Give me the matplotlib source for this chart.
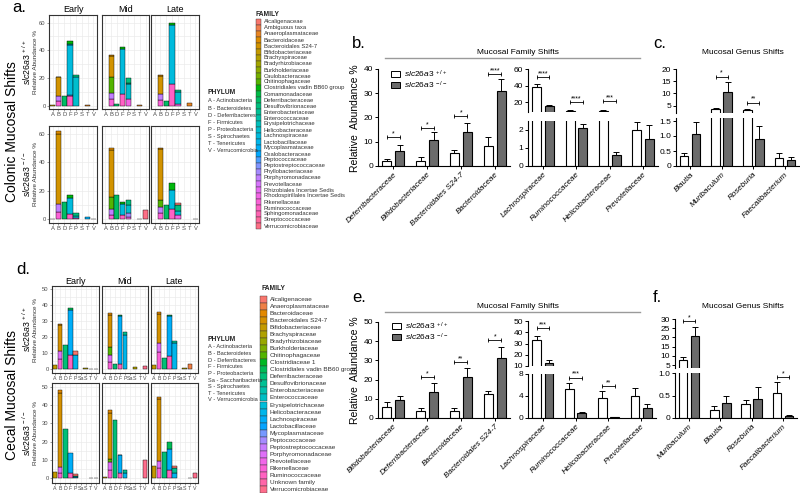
import numpy as np
import matplotlib
matplotlib.use("Agg")
import matplotlib.pyplot as plt
from matplotlib.patches import Rectangle
from matplotlib.lines import Line2D

plt.rcParams['font.family'] = ['Liberation Sans', 'DejaVu Sans']
plt.rcParams['mathtext.fontset'] = 'custom'
plt.rcParams['mathtext.rm'] = 'Liberation Sans'
plt.rcParams['mathtext.it'] = 'Liberation Sans:italic'

# ---------------- stacked phylum / family data ----------------
col_fams = ['Alcaligenaceae', 'Ambiguous taxa', 'Anaeroplasmataceae', 'Bacteroidaceae',
            'Bacteroidales S24-7', 'Bifidobacteriaceae', 'Brachyspiraceae', 'Bradyrhizobiaceae',
            'Burkholderiaceae', 'Caulobacteraceae', 'Chitinophagaceae',
            'Clostridiales vadin BB60 group', 'Comamonadaceae', 'Deferribacteraceae',
            'Desulfovibrionaceae', 'Enterobacteriaceae', 'Enterococcaceae', 'Erysipelotrichaceae',
            'Helicobacteraceae', 'Lachnospiraceae', 'Lactobacillaceae', 'Mycoplasmataceae',
            'Oxalobacteraceae', 'Peptococcaceae', 'Peptostreptococcaceae', 'Phyllobacteriaceae',
            'Porphyromonadaceae', 'Prevotellaceae', 'Rhizobiales Incertae Sedis',
            'Rhodospirillales Incertae Sedis', 'Rikenellaceae', 'Ruminococcaceae',
            'Sphingomonadaceae', 'Streptococcaceae', 'Verrucomicrobiaceae']
cec_fams = ['Alcaligenaceae', 'Anaeroplasmataceae', 'Bacteroidaceae', 'Bacteroidales S24-7',
            'Bifidobacteriaceae', 'Brachyspiraceae', 'Bradyrhizobiaceae', 'Burkholderiaceae',
            'Chitinophagaceae', 'Clostridiaceae 1', 'Clostridiales vadin BB60 group',
            'Deferribacteraceae', 'Desulfovibrionaceae', 'Enterobacteriaceae', 'Enterococcaceae',
            'Erysipelotrichaceae', 'Helicobacteraceae', 'Lachnospiraceae', 'Lactobacillaceae',
            'Mycoplasmataceae', 'Peptococcaceae', 'Peptostreptococcaceae', 'Porphyromonadaceae',
            'Prevotellaceae', 'Rikenellaceae', 'Ruminococcaceae', 'Unknown family',
            'Verrucomicrobiaceae']

col_phyla = ['A', 'B', 'D', 'F', 'P', 'S', 'T', 'V']
cec_phyla = ['A', 'B', 'D', 'F', 'P', 'Sa', 'S', 'T', 'V']
col_phyla_names = ['A - Actinobacteria', 'B - Bacteroidetes', 'D - Deferribacteres', 'F - Firmicutes',
                   'P - Proteobacteria', 'S - Spirochaetes', 'T - Tenericutes', 'V - Verrucomicrobia']
cec_phyla_names = ['A - Actinobacteria', 'B - Bacteroidetes', 'D - Deferribacteres', 'F - Firmicutes',
                   'P - Proteobacteria', 'Sa - Saccharibacteria', 'S - Spirochaetes', 'T - Tenericutes',
                   'V - Verrucomicrobia']
stages = ['Early', 'Mid', 'Late']

col_wt_early = {
    'A': [('Bifidobacteriaceae', 0.3)],
    'B': [('Bacteroidaceae', 0.6), ('Bacteroidales S24-7', 13.4), ('Porphyromonadaceae', 3.5), ('Rikenellaceae', 3.5)],
    'D': [('Deferribacteraceae', 6.7)],
    'F': [('Clostridiales vadin BB60 group', 2.5), ('Erysipelotrichaceae', 0.5), ('Lachnospiraceae', 36.0),
          ('Peptococcaceae', 0.8), ('Ruminococcaceae', 7.0)],
    'P': [('Desulfovibrionaceae', 1.5), ('Helicobacteraceae', 20.8)],
    'T': [('Anaeroplasmataceae', 0.3)],
}
col_wt_mid = {
    'B': [('Bacteroidaceae', 1.0), ('Bacteroidales S24-7', 14.7), ('Chitinophagaceae', 12.0),
          ('Porphyromonadaceae', 4.0), ('Rikenellaceae', 5.0)],
    'D': [('Deferribacteraceae', 1.2)],
    'F': [('Clostridiales vadin BB60 group', 1.0), ('Lachnospiraceae', 32.5), ('Ruminococcaceae', 8.5)],
    'P': [('Desulfovibrionaceae', 3.6), ('Enterobacteriaceae', 1.0), ('Helicobacteraceae', 11.0),
          ('Rhodospirillales Incertae Sedis', 4.4)],
    'T': [('Anaeroplasmataceae', 0.3)],
}
col_wt_late = {
    'B': [('Bacteroidaceae', 1.0), ('Bacteroidales S24-7', 13.0), ('Porphyromonadaceae', 4.0), ('Rikenellaceae', 4.3)],
    'D': [('Deferribacteraceae', 3.6)],
    'F': [('Clostridiales vadin BB60 group', 1.0), ('Lachnospiraceae', 43.0), ('Ruminococcaceae', 15.5)],
    'P': [('Desulfovibrionaceae', 1.5), ('Helicobacteraceae', 9.0), ('Rhodospirillales Incertae Sedis', 1.0)],
    'T': [('Anaeroplasmataceae', 2.0)],
}
col_ko_early = {
    'A': [('Bifidobacteriaceae', 0.3)],
    'B': [('Bacteroidaceae', 2.0), ('Bacteroidales S24-7', 49.0), ('Porphyromonadaceae', 6.0), ('Rikenellaceae', 5.0)],
    'D': [('Deferribacteraceae', 12.0)],
    'F': [('Clostridiales vadin BB60 group', 1.9), ('Lachnospiraceae', 10.9), ('Ruminococcaceae', 4.0)],
    'P': [('Desulfovibrionaceae', 2.0), ('Helicobacteraceae', 1.5), ('Rhodospirillales Incertae Sedis', 1.2)],
    'T': [('Mycoplasmataceae', 2.0)],
    'V': [('Verrucomicrobiaceae', 0.5)],
}
col_ko_mid = {
    'B': [('Bacteroidaceae', 1.0), ('Bacteroidales S24-7', 33.0), ('Chitinophagaceae', 9.0),
          ('Porphyromonadaceae', 4.0), ('Rikenellaceae', 3.0)],
    'D': [('Deferribacteraceae', 16.8)],
    'F': [('Clostridiales vadin BB60 group', 1.0), ('Lachnospiraceae', 8.0), ('Ruminococcaceae', 3.0)],
    'P': [('Desulfovibrionaceae', 3.0), ('Helicobacteraceae', 6.0), ('Phyllobacteriaceae', 2.3),
          ('Rhodospirillales Incertae Sedis', 2.0)],
    'T': [('Anaeroplasmataceae', 0.3)],
    'V': [('Verrucomicrobiaceae', 6.8)],
}
col_ko_late = {
    'B': [('Bacteroidaceae', 1.0), ('Bacteroidales S24-7', 36.0), ('Chitinophagaceae', 4.7),
          ('Porphyromonadaceae', 4.0), ('Rikenellaceae', 4.6)],
    'D': [('Deferribacteraceae', 9.8)],
    'F': [('Clostridiales vadin BB60 group', 5.4), ('Lachnospiraceae', 12.8), ('Ruminococcaceae', 7.5)],
    'P': [('Alcaligenaceae', 1.5), ('Desulfovibrionaceae', 4.0), ('Helicobacteraceae', 3.0),
          ('Rhodospirillales Incertae Sedis', 2.9)],
    'V': [('Verrucomicrobiaceae', 0.5)],
}

cec_wt_early = {
    'A': [('Bifidobacteriaceae', 2.7)],
    'B': [('Bacteroidaceae', 1.0), ('Bacteroidales S24-7', 16.5), ('Porphyromonadaceae', 5.0), ('Rikenellaceae', 6.0)],
    'D': [('Deferribacteraceae', 15.0)],
    'F': [('Clostridiales vadin BB60 group', 1.0), ('Lachnospiraceae', 28.0), ('Ruminococcaceae', 9.0)],
    'P': [('Alcaligenaceae', 2.5), ('Helicobacteraceae', 9.0)],
    'S': [('Brachyspiraceae', 0.6)],
    'T': [('Anaeroplasmataceae', 0.3)],
    'V': [('Verrucomicrobiaceae', 0.3)],
}
cec_wt_mid = {
    'B': [('Bacteroidaceae', 1.0), ('Bacteroidales S24-7', 20.5), ('Chitinophagaceae', 5.0),
          ('Porphyromonadaceae', 4.0), ('Rikenellaceae', 4.5)],
    'D': [('Deferribacteraceae', 3.4)],
    'F': [('Clostridiales vadin BB60 group', 0.7), ('Lachnospiraceae', 30.0), ('Ruminococcaceae', 3.3)],
    'P': [('Desulfovibrionaceae', 2.0), ('Helicobacteraceae', 21.0)],
    'S': [('Brachyspiraceae', 1.3)],
    'V': [('Verrucomicrobiaceae', 1.7)],
}
cec_wt_late = {
    'A': [('Bifidobacteriaceae', 2.7)],
    'B': [('Bacteroidaceae', 1.0), ('Bacteroidales S24-7', 18.0), ('Porphyromonadaceae', 6.0), ('Rikenellaceae', 10.4)],
    'D': [('Deferribacteraceae', 7.0)],
    'F': [('Clostridiales vadin BB60 group', 0.8), ('Lachnospiraceae', 25.0), ('Ruminococcaceae', 8.2)],
    'P': [('Desulfovibrionaceae', 1.5), ('Helicobacteraceae', 16.0)],
    'S': [('Brachyspiraceae', 0.5)],
    'T': [('Anaeroplasmataceae', 3.4)],
}
cec_ko_early = {
    'A': [('Bifidobacteriaceae', 3.7)],
    'B': [('Bacteroidaceae', 1.5), ('Bacteroidales S24-7', 40.5), ('Porphyromonadaceae', 3.0), ('Rikenellaceae', 3.2)],
    'D': [('Deferribacteraceae', 27.0)],
    'F': [('Lachnospiraceae', 11.0), ('Ruminococcaceae', 2.8)],
    'P': [('Alcaligenaceae', 1.0), ('Desulfovibrionaceae', 0.5), ('Helicobacteraceae', 1.0)],
    'T': [('Mycoplasmataceae', 0.2)],
    'V': [('Verrucomicrobiaceae', 0.3)],
}
cec_ko_mid = {
    'A': [('Bifidobacteriaceae', 0.8)],
    'B': [('Bacteroidaceae', 2.0), ('Bacteroidales S24-7', 25.0), ('Chitinophagaceae', 1.5),
          ('Porphyromonadaceae', 4.5), ('Rikenellaceae', 4.5)],
    'D': [('Deferribacteraceae', 32.0)],
    'F': [('Clostridiales vadin BB60 group', 0.5), ('Lachnospiraceae', 9.5), ('Ruminococcaceae', 3.0)],
    'P': [('Desulfovibrionaceae', 1.5), ('Helicobacteraceae', 3.0)],
    'V': [('Verrucomicrobiaceae', 10.0)],
}
cec_ko_late = {
    'A': [('Bifidobacteriaceae', 7.0)],
    'B': [('Bacteroidaceae', 1.5), ('Bacteroidales S24-7', 33.5), ('Porphyromonadaceae', 4.0), ('Rikenellaceae', 5.6)],
    'D': [('Deferribacteraceae', 14.6)],
    'F': [('Clostridiales vadin BB60 group', 3.4), ('Lachnospiraceae', 11.8), ('Ruminococcaceae', 4.5)],
    'P': [('Alcaligenaceae', 1.5), ('Desulfovibrionaceae', 2.5), ('Helicobacteraceae', 3.0)],
    'T': [('Anaeroplasmataceae', 0.3)],
    'V': [('Verrucomicrobiaceae', 2.9)],
}

# ---------------- bar chart data (mean, SEM) ----------------
b_fam = ['Deferribacteraceae', 'Bifidobacteriaceae', 'Bacteroidales S24-7', 'Bacteroidaceae']
b_wt = [2.1, 2.1, 5.5, 8.3]
b_wt_err = [0.7, 1.5, 1.2, 3.7]
b_ko = [6.3, 10.7, 14.0, 31.0]
b_ko_err = [2.4, 3.3, 3.7, 4.8]
b_sig = ['*', '*', '*', '****']
b_sig_y = [11.9, 15.6, 20.6, 37.9]

b2_fam = ['Lachnospiraceae', 'Ruminococcaceae', 'Helicobacteraceae', 'Prevotellaceae']
b2_wt = [38.5, 9.5, 9.0, 2.0]
b2_wt_err = [3.5, 1.0, 1.5, 0.45]
b2_ko = [15.0, 2.1, 0.6, 1.5]
b2_ko_err = [1.8, 0.25, 0.18, 0.8]
b2_sig = ['****', '****', '***', '']
b2_sig_y = [50.3, 20.0, 21.0, 0]

c_gen = ['Blautia', 'Muribaculum', 'Roseburia', 'Faecalibacterium']
c_wt = [0.33, 3.5, 3.3, 0.27]
c_wt_err = [0.12, 0.6, 0.4, 0.16]
c_ko = [1.07, 10.7, 0.9, 0.2]
c_ko_err = [0.4, 3.8, 0.43, 0.1]
c_sig = ['', '*', '**', '']
c_sig_y = [0, 16.8, 6.2, 0]

e_fam = ['Bifidobacteriaceae', 'Deferribacteraceae', 'Bacteroidaceae', 'Bacteroidales S24-7']
e_wt = [5.7, 3.8, 3.7, 12.4]
e_wt_err = [2.8, 1.4, 1.6, 1.6]
e_ko = [9.4, 13.7, 21.3, 31.0]
e_ko_err = [2.3, 4.6, 4.6, 6.0]
e_sig = ['', '*', '**', '*']
e_sig_y = [0, 21.4, 29.2, 40.6]

e2_fam = ['Lachnospiraceae', 'Ruminococcaceae', 'Helicobacteraceae', 'Prevotellaceae']
e2_wt = [33.0, 5.3, 3.6, 4.0]
e2_wt_err = [4.0, 1.0, 1.3, 1.5]
e2_ko = [13.0, 0.9, 0.1, 1.8]
e2_ko_err = [2.5, 0.25, 0.05, 0.7]
e2_sig = ['***', '***', '**', '']
e2_sig_y = [43.8, 7.3, 5.8, 0]

f_gen = ['Muribaculum', 'Blautia', 'Roseburia', 'Faecalibacterium']
f_wt = [7.7, 0.18, 0.32, 0.56]
f_wt_err = [1.6, 0.08, 0.09, 0.23]
f_ko = [20.8, 0.33, 0.42, 0.04]
f_ko_err = [4.9, 0.16, 0.26, 0.02]
f_sig = ['*', '', '', '*']
f_sig_y = [28.9, 0, 0, 0.91]

W, H = 800, 493
KO_COLOR = '#6b6b6b'


def hue_pal(n, c=100, l=65):
    # ggplot2-style hue palette (HCL -> sRGB)
    hues = np.linspace(15, 375 - 360 / n, n) % 360
    Xn, Yn, Zn = 95.047, 100.0, 108.883
    un = 4 * Xn / (Xn + 15 * Yn + 3 * Zn)
    vn = 9 * Yn / (Xn + 15 * Yn + 3 * Zn)
    out = []
    for h in hues:
        U = c * np.cos(np.radians(h))
        V = c * np.sin(np.radians(h))
        Y = Yn * ((l + 16) / 116) ** 3
        u = U / (13 * l) + un
        v = V / (13 * l) + vn
        X = 9 * Y * u / (4 * v)
        Z = (9 * Y - 15 * v * Y - v * X) / (3 * v)
        rgb = np.array([3.240479 * X - 1.537150 * Y - 0.498535 * Z,
                        -0.969256 * X + 1.875992 * Y + 0.041556 * Z,
                        0.055648 * X - 0.204043 * Y + 1.057311 * Z]) / 100
        rgb = np.where(rgb <= 0.0031308, 12.92 * rgb, 1.055 * np.abs(rgb) ** (1 / 2.4) - 0.055)
        out.append(tuple(np.clip(rgb, 0, 1)))
    return out


col_colors = hue_pal(len(col_fams))
cec_colors = hue_pal(len(cec_fams))


def rect(x0, y0, x1, y1):
    return [x0 / W, 1 - y1 / H, (x1 - x0) / W, (y1 - y0) / H]


def ftext(x, y, s, **kw):
    fig.text(x / W, 1 - y / H, s, **kw)


fig = plt.figure(figsize=(8, 4.93), dpi=100)


def facet(box, data, phyla, fams, colors, ylim, yticks, show_y, xfs):
    ax = fig.add_axes(rect(*box))
    for i, p in enumerate(phyla):
        segs = sorted(data.get(p, []), key=lambda s: -fams.index(s[0]))
        bottom = 0
        for fam, v in segs:
            ax.bar(i + 1, v, bottom=bottom, width=0.9, color=colors[fams.index(fam)],
                   edgecolor='black', linewidth=0.3, zorder=3)
            bottom += v
    ax.set_xlim(0.4, len(phyla) + 0.6)
    ax.set_ylim(*ylim)
    ax.set_yticks(yticks)
    ax.set_yticks([t + (yticks[1] - yticks[0]) / 2 for t in yticks[:-1]], minor=True)
    ax.set_xticks(range(1, len(phyla) + 1))
    ax.set_xticklabels(phyla)
    ax.grid(True, which='both', color='#ebebeb', linewidth=0.5, zorder=0)
    ax.tick_params(labelsize=4.2, length=1.5, width=0.4, pad=1, colors='#4d4d4d')
    ax.tick_params(axis='x', labelsize=xfs)
    ax.tick_params(which='minor', length=0)
    if not show_y:
        ax.set_yticklabels([])
        ax.tick_params(axis='y', length=0)
    for sp in ax.spines.values():
        sp.set_color('#333333')
        sp.set_linewidth(0.8)
    return ax


def family_legend(x_key, y0, step, fams, colors, kw, kh, fs):
    for i, (fam, col) in enumerate(zip(fams, colors)):
        y = y0 + i * step
        fig.add_artist(Rectangle((x_key / W, 1 - (y + kh / 2) / H), kw / W, kh / H,
                                 facecolor=col, edgecolor='#333333', linewidth=0.3,
                                 transform=fig.transFigure))
        ftext(x_key + kw + 3, y, fam, fontsize=fs, va='center', ha='left', color='#333333')


def phylum_legend(x, y0, step, names):
    ftext(x, y0 - step - 1, 'PHYLUM', fontsize=4.8, fontweight='bold', va='center', color='#222222')
    for i, nm in enumerate(names):
        ftext(x, y0 + i * step, nm, fontsize=4.1, va='center', color='#333333')


def row_labels(rows):
    for (y0, y1), g in zip(rows, ['+/+', '-/-']):
        ftext(27, (y0 + y1) / 2, r'$\mathit{slc26a3}^{\ %s}$' % g, fontsize=6.3, rotation=90,
              ha='center', va='center')
        ftext(35.5, (y0 + y1) / 2, 'Relative Abundance %', fontsize=4.6, rotation=90,
              ha='center', va='center', color='#333333')


# ---------------- panel a (colonic) ----------------
col_cols = [(49, 97), (102, 149), (151, 199)]
col_rows = [(15, 109), (126, 223)]
col_data = [[col_wt_early, col_wt_mid, col_wt_late], [col_ko_early, col_ko_mid, col_ko_late]]
for r, (y0, y1) in enumerate(col_rows):
    for c, (x0, x1) in enumerate(col_cols):
        facet((x0, y0, x1, y1), col_data[r][c], col_phyla, col_fams, col_colors,
              (-2.5, 65.5), [0, 20, 40, 60], c == 0, 4.2)
for c, (x0, x1) in enumerate(col_cols):
    ftext((x0 + x1) / 2, 10, stages[c], fontsize=6.5, ha='center', va='center')

ftext(12, 8, 'a.', fontsize=12, ha='left', va='center')
ftext(12, 132, 'Colonic Mucosal Shifts', fontsize=10, rotation=90, ha='center', va='center')
row_labels(col_rows)
phylum_legend(208, 101, 7.1, col_phyla_names)
ftext(256, 14, 'FAMILY', fontsize=4.8, fontweight='bold', va='center', color='#222222')
family_legend(256, 22, 6.0, col_fams, col_colors, 5, 5.2, 4.2)

# ---------------- panel d (cecal) ----------------
cec_cols = [(52, 99), (102, 148), (151, 198)]
cec_rows = [(286, 373), (383, 483)]
cec_data = [[cec_wt_early, cec_wt_mid, cec_wt_late], [cec_ko_early, cec_ko_mid, cec_ko_late]]
for r, (y0, y1) in enumerate(cec_rows):
    for c, (x0, x1) in enumerate(cec_cols):
        facet((x0, y0, x1, y1), cec_data[r][c], cec_phyla, cec_fams, cec_colors,
              (-2.5, 52), [0, 10, 20, 30, 40, 50], c == 0, 3.8)
for c, (x0, x1) in enumerate(cec_cols):
    ftext((x0 + x1) / 2, 281, stages[c], fontsize=6.5, ha='center', va='center')

ftext(16, 270, 'd.', fontsize=12, ha='left', va='center')
ftext(12, 395, 'Cecal Mucosal Shifts', fontsize=10, rotation=90, ha='center', va='center')
row_labels(cec_rows)
phylum_legend(208, 347, 6.6, cec_phyla_names)
ftext(262, 289, 'FAMILY', fontsize=4.8, fontweight='bold', va='center', color='#222222')
family_legend(260, 299, 7.07, cec_fams, cec_colors, 7, 7.0, 4.6)


# ---------------- GraphPad-style bar charts ----------------
def style_ax(ax, ylim, yticks, yticklabels=None, bottom=True):
    ax.set_xlim(-0.45, 3.45)
    ax.set_ylim(*ylim)
    ax.set_yticks(yticks)
    if yticklabels is not None:
        ax.set_yticklabels(yticklabels)
    ax.spines['top'].set_visible(False)
    ax.spines['right'].set_visible(False)
    ax.spines['left'].set_linewidth(0.8)
    ax.spines['bottom'].set_linewidth(0.8)
    ax.tick_params(labelsize=6, length=2.5, width=0.7, pad=1)
    if not bottom:
        ax.spines['bottom'].set_visible(False)
        ax.set_xticks([])


def draw_bars(ax, wt, wt_err, ko, ko_err):
    x = np.arange(len(wt))
    ax.bar(x - 0.19, wt, width=0.27, color='white', edgecolor='black', linewidth=0.8, zorder=2)
    ax.bar(x + 0.19, ko, width=0.27, color=KO_COLOR, edgecolor='black', linewidth=0.8, zorder=2)
    ax.errorbar(x - 0.19, wt, yerr=[np.zeros(len(wt)), wt_err], fmt='none', ecolor='black',
                elinewidth=0.7, capsize=2, capthick=0.7, zorder=3)
    ax.errorbar(x + 0.19, ko, yerr=[np.zeros(len(ko)), ko_err], fmt='none', ecolor='black',
                elinewidth=0.7, capsize=2, capthick=0.7, zorder=3)


def brackets(ax, idx, sig, ys):
    for i in idx:
        if not sig[i]:
            continue
        ax.plot([i - 0.19, i + 0.19], [ys[i], ys[i]], color='black', lw=0.6, marker='|',
                markersize=3, markeredgewidth=0.6, clip_on=False, zorder=4)
        ax.text(i, ys[i], sig[i], fontsize=5, ha='center', va='bottom', clip_on=False)


def xlabels(ax, labels):
    ax.set_xticks(range(len(labels)))
    ax.set_xticklabels(labels, rotation=45, ha='right', rotation_mode='anchor',
                       fontstyle='italic', fontsize=5.8)


def simple_panel(box, wt, wt_err, ko, ko_err, sig, sig_y, labels, ylim, yticks):
    ax = fig.add_axes(rect(*box))
    draw_bars(ax, wt, wt_err, ko, ko_err)
    style_ax(ax, ylim, yticks)
    xlabels(ax, labels)
    brackets(ax, range(len(wt)), sig, sig_y)
    return ax


def broken_panel(top_box, low_box, wt, wt_err, ko, ko_err, sig, sig_y, top_idx, labels,
                 top_lim, top_ticks, low_lim, low_ticks, low_ticklabels=None):
    axt = fig.add_axes(rect(*top_box))
    axl = fig.add_axes(rect(*low_box))
    for ax in (axt, axl):
        draw_bars(ax, wt, wt_err, ko, ko_err)
    style_ax(axt, top_lim, top_ticks, bottom=False)
    style_ax(axl, low_lim, low_ticks, low_ticklabels)
    xlabels(axl, labels)
    brackets(axt, [i for i in range(len(wt)) if i in top_idx], sig, sig_y)
    brackets(axl, [i for i in range(len(wt)) if i not in top_idx], sig, sig_y)


def legend_box(x, y, dy, fs):
    for k, (col, g) in enumerate([('white', '+/+'), (KO_COLOR, '-/-')]):
        yy = y + k * dy
        fig.add_artist(Rectangle((x / W, 1 - (yy + 3) / H), 9 / W, 6 / H, facecolor=col,
                                 edgecolor='black', linewidth=0.7, transform=fig.transFigure))
        ftext(x + 13, yy + 0.5, r'$\mathit{slc26a3}^{\ %s}$' % g, fontsize=fs, va='center')


def header(y_letter, letter_b, letter_c):
    ftext(352, y_letter, letter_b, fontsize=12, va='center')
    ftext(653, y_letter, letter_c, fontsize=12, va='center')
    ftext(518, y_letter + 9, 'Mucosal Family Shifts', fontsize=6, ha='center', va='center')
    ftext(743, y_letter + 9, 'Mucosal Genus Shifts', fontsize=6, ha='center', va='center')
    fig.add_artist(Line2D([385 / W, 640 / W], [1 - (y_letter + 15) / H] * 2, color='#9a9a9a',
                          lw=1.0, transform=fig.transFigure))


# panel b / c
header(43, 'b.', 'c.')
ax_b = simple_panel((378, 69, 510, 166), b_wt, b_wt_err, b_ko, b_ko_err, b_sig, b_sig_y,
                    b_fam, (0, 40), [0, 10, 20, 30, 40])
ftext(355, 118, 'Relative  Abundance %', fontsize=7.5, rotation=90, ha='center', va='center')
legend_box(391, 74, 10.5, 6.0)
broken_panel((528, 69, 658, 112), (528, 121, 658, 166), b2_wt, b2_wt_err, b2_ko, b2_ko_err,
             b2_sig, b2_sig_y, [0, 1, 2], b2_fam, (8, 60), [20, 40, 60], (0, 2.5), [0, 1, 2])
broken_panel((676, 69, 799, 113), (676, 118, 799, 166), c_wt, c_wt_err, c_ko, c_ko_err,
             c_sig, c_sig_y, [1, 2], c_gen, (2, 20), [5, 10, 15, 20], (0, 1.6),
             [0, 0.5, 1.0, 1.5], ['0', '0.5', '1.0', '1.5'])

# panel e / f
header(297, 'e.', 'f.')
ax_e = simple_panel((378, 322, 510, 418), e_wt, e_wt_err, e_ko, e_ko_err, e_sig, e_sig_y,
                    e_fam, (0, 50), [0, 10, 20, 30, 40, 50])
ftext(355, 370, 'Relative  Abundance %', fontsize=7.5, rotation=90, ha='center', va='center')
legend_box(392, 326, 10.5, 6.0)
broken_panel((528, 321, 656, 366), (528, 374, 656, 418), e2_wt, e2_wt_err, e2_ko, e2_ko_err,
             e2_sig, e2_sig_y, [0], e2_fam, (10, 50), [10, 20, 30, 40, 50], (0, 8), [0, 4, 8])
broken_panel((675, 319, 797, 368), (675, 373, 797, 418), f_wt, f_wt_err, f_ko, f_ko_err,
             f_sig, f_sig_y, [0], f_gen, (3.5, 30), [5, 10, 15, 20, 25, 30], (0, 1.0),
             [0, 0.5, 1.0], ['0', '0.5', '1.0'])

fig.savefig('out.png', dpi=100)
